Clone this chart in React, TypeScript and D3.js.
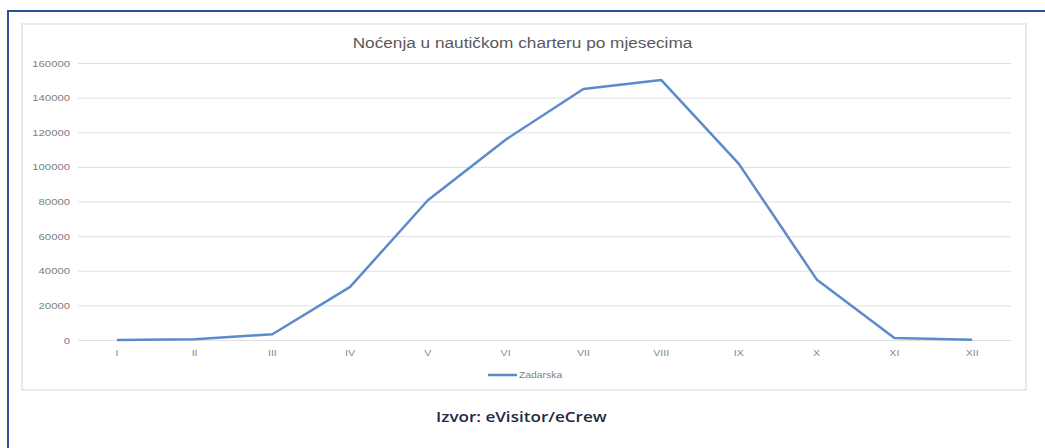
import React from "react";
import * as d3 from "d3";

const months = ["I", "II", "III", "IV", "V", "VI", "VII", "VIII", "IX", "X", "XI", "XII"];
const zadarska = [300, 700, 3600, 31000, 81000, 116000, 145300, 150500, 102000, 35300, 1500, 500];
const yTicks = [0, 20000, 40000, 60000, 80000, 100000, 120000, 140000, 160000];
const title = "Noćenja u nautičkom charteru po mjesecima";
const seriesName = "Zadarska";
const source = "Izvor: eVisitor/eCrew";

const font = "'Liberation Sans', Arial, sans-serif";

function SText(props: {
  x: number;
  y: number;
  sx: number;
  anchor?: "start" | "middle" | "end";
  size: number;
  fill: string;
  family?: string;
  weight?: number;
  children: React.ReactNode;
}) {
  return (
    <g transform={`translate(${props.x},${props.y}) scale(${props.sx},1)`}>
      <text
        x={0}
        y={0}
        textAnchor={props.anchor || "start"}
        fontFamily={props.family || font}
        fontSize={props.size}
        fontWeight={props.weight || 400}
        fill={props.fill}
      >
        {props.children}
      </text>
    </g>
  );
}

export default function App() {
  const W = 1045, H = 448;
  const x = d3.scaleBand<string>().domain(months).range([78, 1011]);
  const y = d3.scaleLinear().domain([0, 160000]).range([340.5, 63.5]);
  const line = d3
    .line<number>()
    .x((_, i) => (x(months[i]) as number) + x.bandwidth() / 2)
    .y((d) => y(d));
  return (
    <svg
      width={W}
      height={H}
      style={{ position: "absolute", left: 0, top: 0, background: "#fff" }}
    >
      <rect x={0} y={0} width={W} height={H} fill="#fff" />
      {/* blue frame */}
      <line x1={8} y1={11} x2={W} y2={11} stroke="#2a5191" strokeWidth={2} />
      <line x1={8} y1={10} x2={8} y2={H} stroke="#2a5191" strokeWidth={2} />
      {/* chart box */}
      <rect x={22} y={24} width={1004} height={366} fill="#fff" stroke="#e3e3e3" strokeWidth={1.5} />
      <SText x={522.5} y={48} sx={1.23} anchor="middle" size={14} fill="#595959">
        {title}
      </SText>
      {yTicks.map((t) => (
        <g key={t}>
          <line x1={78} x2={1011} y1={y(t)} y2={y(t)} stroke="#e0e0e0" strokeWidth={1} />
          <SText x={70} y={y(t) + 3} sx={1.33} anchor="end" size={8.5} fill="#808080">
            {t}
          </SText>
        </g>
      ))}
      {months.map((m) => (
        <SText
          key={m}
          x={(x(m) as number) + x.bandwidth() / 2}
          y={356}
          sx={1.25}
          anchor="middle"
          size={8.5}
          fill="#8c8c8c"
        >
          {m}
        </SText>
      ))}
      <path d={line(zadarska) || ""} fill="none" stroke="#5b8bcc" strokeWidth={2.5} strokeLinejoin="round" />
      {/* legend */}
      <line x1={488} x2={517} y1={375} y2={375} stroke="#5b8bcc" strokeWidth={2.5} />
      <SText x={519} y={378} sx={1.22} size={8.5} fill="#808080">
        {seriesName}
      </SText>
      <SText x={436} y={422} sx={1.22} size={14} weight={600} family="'Open Sans', sans-serif" fill="#1f2a44">
        {source}
      </SText>
    </svg>
  );
}
